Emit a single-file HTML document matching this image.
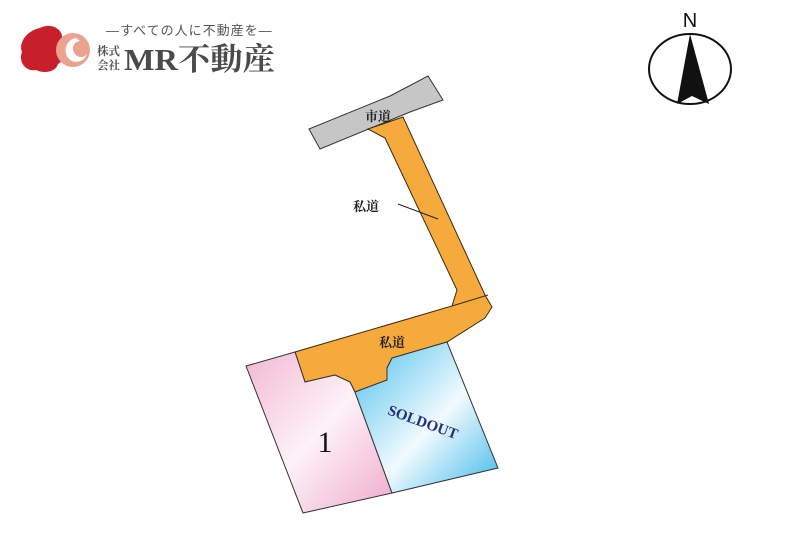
<!DOCTYPE html>
<html><head><meta charset="utf-8"><style>
html,body{margin:0;padding:0;background:#fff;}
svg{display:block;}
</style></head><body>
<svg width="800" height="545" viewBox="0 0 800 545" xmlns="http://www.w3.org/2000/svg">
<defs>
<linearGradient id="pk" x1="0" y1="0" x2="1" y2="1">
<stop offset="0" stop-color="#f2b8d3"/><stop offset="0.5" stop-color="#fdf2f7"/><stop offset="1" stop-color="#f0a9cb"/>
</linearGradient>
<linearGradient id="bl" x1="0" y1="0" x2="1" y2="1">
<stop offset="0" stop-color="#4cc0ec"/><stop offset="0.55" stop-color="#f2fafe"/><stop offset="1" stop-color="#3db8ea"/>
</linearGradient>
</defs>
<!-- logo -->
<path d="M40,28 C52,22 64,30 62,40 C68,46 66,60 58,64 C56,72 44,74 36,70 C26,72 18,62 22,52 C18,42 28,30 40,28Z" fill="#c8202a"/>
<circle cx="73" cy="50" r="17" fill="#e9a38f"/>
<path d="M76,38 C64,40 62,56 72,61 C80,64 86,58 87,54 C84,58 78,58 75,54 C71,49 73,42 80,41 Z" fill="#fff"/>
<text x="106" y="35" font-family="Liberation Sans, Noto Sans CJK JP, sans-serif" font-size="13" fill="#555" letter-spacing="1">―すべての人に不動産を―</text>
<text x="97" y="55" font-family="Noto Serif CJK SC, serif" font-size="11.5" font-weight="bold" fill="#555">株式</text>
<text x="97" y="69" font-family="Noto Serif CJK SC, serif" font-size="11.5" font-weight="bold" fill="#555">会社</text>
<text x="124" y="70" font-family="Liberation Serif, Noto Serif CJK SC, serif" font-size="31" font-weight="bold" fill="#4a4a4a" textLength="151" lengthAdjust="spacingAndGlyphs">MR不動産</text>
<!-- compass -->
<text x="690" y="27" text-anchor="middle" font-family="Liberation Sans, sans-serif" font-size="20" fill="#111">N</text>
<ellipse cx="690" cy="69" rx="41" ry="35" fill="none" stroke="#111" stroke-width="2"/>
<path d="M690,34 L709,104 L692,96 L677,104 Z" fill="#111"/>
<!-- city road -->
<path d="M309,129 L390,96 L428,76 L443,100 L410,112 L320,149 Z" fill="#c6c6c6" stroke="#333" stroke-width="1"/>
<!-- private road -->
<path d="M368,129 L403,117 L485,295 L492,307 L485,318 L447,342 L392,358 L387,368 L387,380 L355,392 L350,382 L335,375 L305,382 L295,352 L452,306 L457,290 L385,138 Z" fill="#f6aa3c" stroke="#3a2a10" stroke-width="1"/>
<line x1="452" y1="306" x2="488" y2="295" stroke="#3a2a10" stroke-width="1"/>
<!-- lots -->
<path d="M246,366 L295,352 L305,382 L335,375 L350,382 L355,392 L392,493 L303,513 Z" fill="url(#pk)" stroke="#333" stroke-width="1"/>
<path d="M355,392 L387,380 L387,368 L392,358 L447,342 L498,468 L392,493 Z" fill="url(#bl)" stroke="#333" stroke-width="1"/>
<!-- labels -->
<text x="378" y="121" text-anchor="middle" font-family="Noto Serif CJK SC, serif" font-size="13" font-weight="bold" fill="#222">市道</text>
<text x="366" y="211" text-anchor="middle" font-family="Noto Serif CJK SC, serif" font-size="13" font-weight="bold" fill="#222">私道</text>
<line x1="398" y1="204" x2="438" y2="219" stroke="#222" stroke-width="1"/>
<text x="392" y="347" text-anchor="middle" font-family="Noto Serif CJK SC, serif" font-size="13" font-weight="bold" fill="#222">私道</text>
<text x="325" y="452" text-anchor="middle" font-family="Liberation Serif, serif" font-size="30" fill="#111">1</text>
<text x="423" y="427" text-anchor="middle" transform="rotate(20 423 422)" font-family="Liberation Serif, serif" font-size="15" font-weight="bold" fill="#23307a">SOLDOUT</text>
</svg>
</body></html>
